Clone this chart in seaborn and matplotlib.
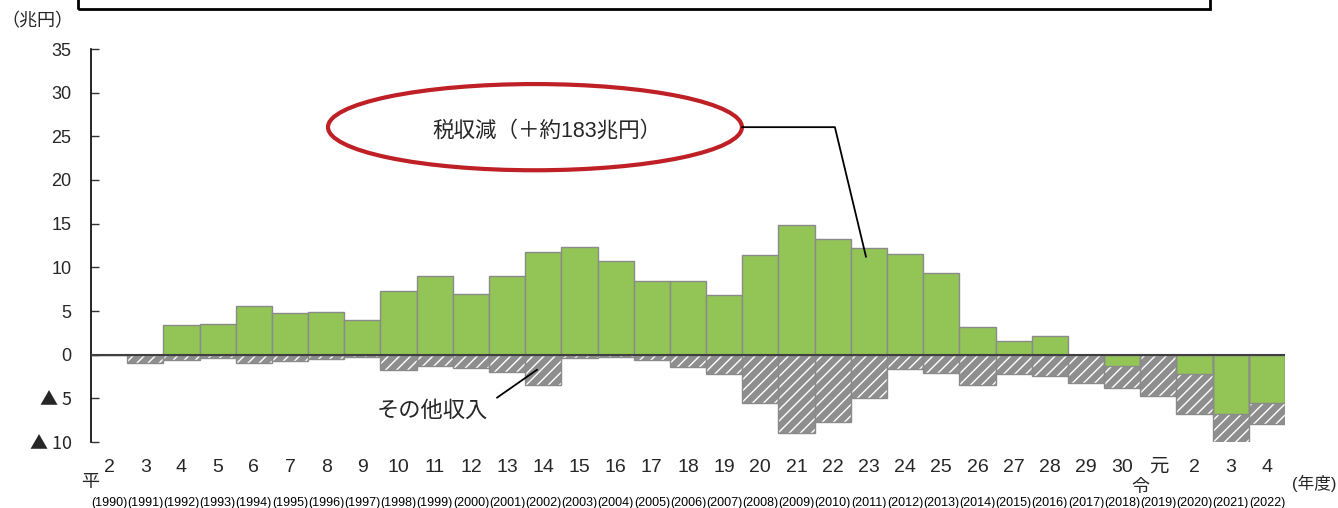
import numpy as np
import pandas as pd
import matplotlib
matplotlib.use("Agg")
import matplotlib.pyplot as plt
from matplotlib.patches import Ellipse, Rectangle
import seaborn as sns

# -----------------------------
# Data (兆円)
# -----------------------------
years = list(range(1990, 2023))
fy_labels = ["2", "3", "4", "5", "6", "7", "8", "9", "10", "11", "12", "13", "14",
             "15", "16", "17", "18", "19", "20", "21", "22", "23", "24", "25", "26",
             "27", "28", "29", "30", "元", "2", "3", "4"]
# 税収減 (tax revenue shortfall)
tax_gap = [0.0, 0.0, 3.4, 3.5, 5.6, 4.8, 4.9, 4.0, 7.3, 9.0, 7.0, 9.0, 11.8,
           12.3, 10.7, 8.4, 8.4, 6.8, 11.4, 14.9, 13.2, 12.2, 11.5, 9.3, 3.2,
           1.6, 2.1, 0.0, -1.3, 0.0, -2.2, -6.8, -5.5]
# その他収入 (other revenue, stacked below)
other_rev = [0.0, -1.0, -0.6, -0.4, -1.0, -0.7, -0.5, -0.3, -1.8, -1.3, -1.5, -2.0, -3.5,
             -0.4, -0.3, -0.6, -1.4, -2.2, -5.5, -9.0, -7.7, -5.0, -1.6, -2.1, -3.5,
             -2.2, -2.4, -3.2, -2.5, -4.7, -4.6, -3.5, -2.4]

GREEN = "#92C556"
GREY = "#8E8E8E"
EDGE = "#8A8A8A"
RED = "#BE2026"
JP = ["Noto Sans CJK JP", "DejaVu Sans"]

W, H = 1338, 508


def px(x, y):
    """figure pixel -> figure fraction"""
    return x / W, 1 - y / H


def main():
    df = pd.DataFrame({"year": [str(y) for y in years], "tax": tax_gap, "other": other_rev})
    df["lower"] = np.minimum(df["tax"], 0) + df["other"]

    sns.set_theme(style="white")
    plt.rcParams["font.family"] = ["Liberation Sans", "Noto Sans CJK JP", "DejaVu Sans"]
    plt.rcParams["hatch.linewidth"] = 1.0

    fig = plt.figure(figsize=(W / 100, H / 100), dpi=100)
    l, b = px(91, 442)
    r, t = px(1285, 49)
    ax = fig.add_axes([l, b, r - l, t - b])

    # hatched "other revenue" bars (drawn first, green goes on top)
    sns.barplot(data=df, x="year", y="lower", color=GREY, width=1.0, saturation=1,
                ax=ax, zorder=2)
    for p in ax.patches:
        p.set_hatch("///")
        p.set_edgecolor("white")
        p.set_linewidth(0)

    # green tax shortfall bars
    sns.barplot(data=df, x="year", y="tax", color=GREEN, width=1.0, saturation=1,
                edgecolor=EDGE, linewidth=1.0, ax=ax, zorder=3)

    # outline of hatched bars
    sns.barplot(data=df, x="year", y="lower", color=EDGE, width=1.0, fill=False,
                linewidth=1.0, ax=ax, zorder=3)

    ax.axhline(0, color="#404040", lw=1.5, zorder=4)

    ax.set_xlim(-0.5, len(years) - 0.5)
    ax.set_ylim(-10, 35)
    yt = list(range(-10, 40, 5))
    ax.set_yticks(yt)
    ax.set_yticklabels([f"▲ {-v}" if v < 0 else str(v) for v in yt], fontsize=13)
    for lab in ax.get_yticklabels():
        if "▲" in lab.get_text():
            lab.set_family(JP)
    ax.set_xticks(range(len(years)))
    ax.set_xticklabels(fy_labels, fontsize=14)
    ax.tick_params(axis="x", length=0, pad=12)
    ax.tick_params(axis="y", direction="in", length=6, width=1, color="#333333", pad=14,
                   left=True)
    ax.set_xlabel("")
    ax.set_ylabel("")

    for s in ["top", "right", "bottom"]:
        ax.spines[s].set_visible(False)
    ax.spines["left"].set_color("black")
    ax.spines["left"].set_linewidth(1.2)

    # western years under each fiscal year
    xt = ax.get_xaxis_transform()
    for i, yr in enumerate(years):
        ax.text(i, -0.155, f"({yr})", transform=xt, ha="center", va="center",
                fontsize=9, color="black")
    ax.text(-0.53, -0.102, "平", transform=xt, ha="center", va="center", fontsize=13,
            family=JP)
    ax.text(28.49, -0.115, "令", transform=xt, ha="center", va="center", fontsize=13,
            family=JP)

    # ellipse callout: 税収減
    ell = Ellipse((11.77, 26.05), 11.44, 9.87, fill=False, edgecolor=RED, lw=3,
                  clip_on=False, zorder=5)
    ax.add_patch(ell)
    ax.text(12.1, 25.6, "税収減（＋約183兆円）", ha="center", va="center", fontsize=15.5,
            zorder=6)
    ax.plot([17.49, 20.06, 20.92], [26.05, 26.05, 11.2], color="black", lw=1.3,
            clip_on=False, zorder=6)

    # その他収入 label
    ax.text(8.93, -6.43, "その他収入", ha="center", va="center", fontsize=16, zorder=6)
    ax.plot([10.72, 11.83], [-4.93, -1.72], color="black", lw=1.3, zorder=6)

    # units
    fig.text(*px(37, 21), "（兆円）", ha="center", va="center", fontsize=13, family=JP)
    fig.text(*px(1314, 483), "(年度)", ha="center", va="center", fontsize=12)

    # box cut off at top of the figure
    x0, y0 = px(78, 9)
    x1, _ = px(1210, 9)
    fig.patches.append(Rectangle((x0, y0), x1 - x0, 0.1, transform=fig.transFigure,
                                 fill=False, edgecolor="black", lw=2, clip_on=False))

    fig.savefig("out.png", dpi=100)
    plt.close(fig)


if __name__ == "__main__":
    main()
